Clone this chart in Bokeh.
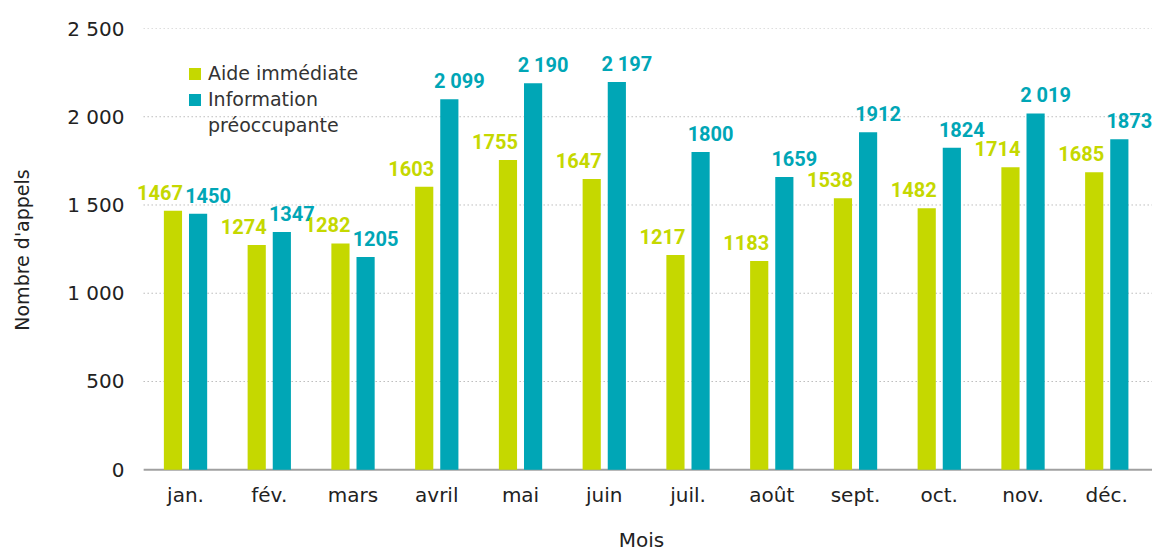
from bokeh.plotting import figure
from bokeh.models import Range1d, FixedTicker, Legend, LegendItem, ColumnDataSource, LabelSet
from bokeh.transform import dodge
from bokeh.core.properties import value
from bokeh.embed import file_html
from bokeh.resources import INLINE

months = ["jan.", "fév.", "mars", "avril", "mai", "juin", "juil.", "août", "sept.", "oct.", "nov.", "déc."]
aide = [1467, 1274, 1282, 1603, 1755, 1647, 1217, 1183, 1538, 1482, 1714, 1685]
info = [1450, 1347, 1205, 2099, 2190, 2197, 1800, 1659, 1912, 1824, 2019, 1873]
aide_labels = ["1467", "1274", "1282", "1603", "1755", "1647", "1217", "1183", "1538", "1482", "1714", "1685"]
info_labels = ["1450", "1347", "1205", "2 099", "2 190", "2 197", "1800", "1659", "1912", "1824", "2 019", "1873"]
y_ticks = [0, 500, 1000, 1500, 2000, 2500]
y_tick_labels = ["0", "500", "1 000", "1 500", "2 000", "2 500"]

GREEN = "#c5d800"
TEAL = "#00a6b6"
FONT = "DejaVu Sans"
BOLD = "Roboto"
TXT = "#222222"

idx = list(range(len(months)))
src = ColumnDataSource(dict(idx=idx, month=months, aide=aide, info=info, aide_l=aide_labels, info_l=info_labels))

X_START, X_END = -0.657, 11.546
p = figure(x_range=Range1d(X_START, X_END), y_range=Range1d(-10, 2500),
           width=1152, height=554, output_backend="svg", toolbar_location=None,
           min_border_left=130, min_border_right=0, min_border_top=28, min_border_bottom=82)
p.outline_line_color = None
p.background_fill_color = "white"

# grid lines and baseline spanning the category area
grid_y = y_ticks[1:]
p.segment(x0=[-0.5] * len(grid_y), x1=[X_END] * len(grid_y), y0=grid_y, y1=grid_y,
          line_color="#9a9a9a", line_dash="1 3", line_width=1)
p.segment(x0=[-0.5], x1=[X_END], y0=[y_ticks[0]], y1=[y_ticks[0]],
          line_color="#a0a0a0", line_width=2)

r1 = p.vbar(x=dodge("idx", -0.15), top="aide", width=0.217, source=src,
            fill_color=GREEN, line_color=None)
r2 = p.vbar(x=dodge("idx", 0.15), top="info", width=0.217, source=src,
            fill_color=TEAL, line_color=None)
r3 = p.vbar(x=[], top=[], width=0.2, fill_alpha=0, line_alpha=0)

lab1 = LabelSet(x=dodge("idx", -0.15), y="aide", text="aide_l", source=src,
                x_offset=-13, y_offset=11, text_align="center", text_baseline="alphabetic",
                text_font=value(BOLD), text_font_style="bold", text_font_size="20px", text_color=GREEN)
lab2 = LabelSet(x=dodge("idx", 0.15), y="info", text="info_l", source=src,
                x_offset=10, y_offset=11, text_align="center", text_baseline="alphabetic",
                text_font=value(BOLD), text_font_style="bold", text_font_size="20px", text_color=TEAL)
p.add_layout(lab1)
p.add_layout(lab2)

p.xgrid.grid_line_color = None
p.ygrid.grid_line_color = None

# y axis
p.yaxis.ticker = FixedTicker(ticks=y_ticks)
p.yaxis.major_label_overrides = {t: l for t, l in zip(y_ticks, y_tick_labels)}
p.yaxis.axis_line_color = None
p.yaxis.major_tick_line_color = None
p.yaxis.minor_tick_line_color = None
p.yaxis.major_label_standoff = 0
p.yaxis.major_label_text_font = FONT
p.yaxis.major_label_text_font_size = "20px"
p.yaxis.major_label_text_color = TXT
p.yaxis.axis_label = "Nombre d'appels"
p.yaxis.axis_label_text_font = FONT
p.yaxis.axis_label_text_font_style = "normal"
p.yaxis.axis_label_text_font_size = "19px"
p.yaxis.axis_label_text_color = TXT
p.yaxis.axis_label_standoff = 31

# x axis
p.xaxis.ticker = FixedTicker(ticks=idx)
p.xaxis.major_label_overrides = {i: m for i, m in zip(idx, months)}
p.xaxis.axis_line_color = None
p.xaxis.major_tick_line_color = None
p.xaxis.minor_tick_line_color = None
p.xaxis.major_label_standoff = 5
p.xaxis.major_label_text_font = FONT
p.xaxis.major_label_text_font_size = "20px"
p.xaxis.major_label_text_color = TXT
p.xaxis.axis_label = "Mois"
p.xaxis.axis_label_text_font = FONT
p.xaxis.axis_label_text_font_style = "normal"
p.xaxis.axis_label_text_font_size = "20px"
p.xaxis.axis_label_text_color = TXT
p.xaxis.axis_label_standoff = 18

legend = Legend(items=[LegendItem(label="Aide immédiate", renderers=[r1]),
                       LegendItem(label="Information", renderers=[r2]),
                       LegendItem(label="préoccupante", renderers=[r3])],
                location=(57, 334), orientation="vertical",
                padding=0, spacing=2, margin=0,
                glyph_width=15, glyph_height=15, label_height=24, label_standoff=6,
                label_text_font=FONT, label_text_font_size="19px", label_text_color="#333333",
                border_line_color=None, background_fill_alpha=0)
p.add_layout(legend)

open("out.html", "w").write(file_html(p, INLINE))
